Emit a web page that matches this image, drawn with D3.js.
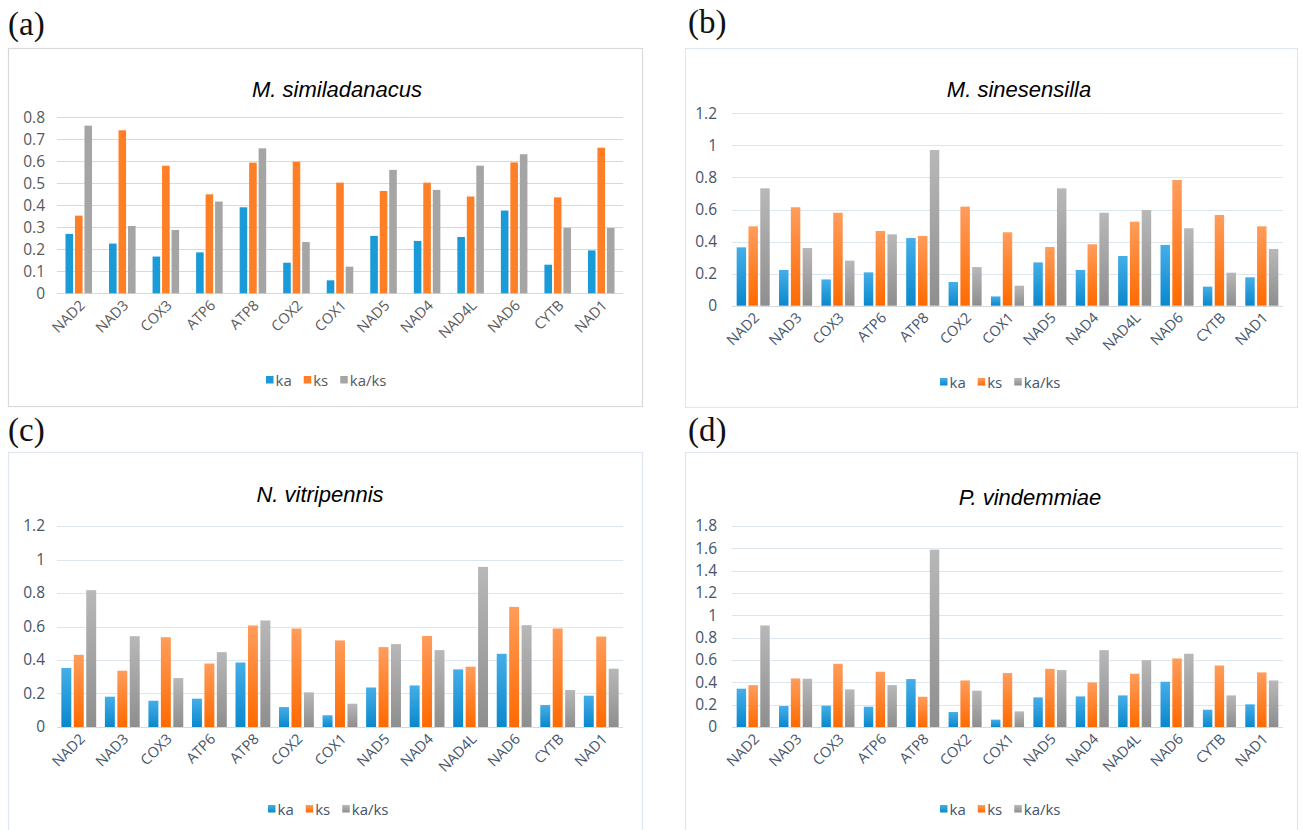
<!DOCTYPE html>
<html><head><meta charset="utf-8">
<script src="https://cdn.jsdelivr.net/npm/d3@7"></script>
<style>
html,body{margin:0;padding:0;background:#fff;}
svg{display:block;}
</style></head>
<body>
<svg id="chart" width="1302" height="830"></svg>
<script>
// ---- data ----
const genes = ["NAD2","NAD3","COX3","ATP6","ATP8","COX2","COX1","NAD5","NAD4","NAD4L","NAD6","CYTB","NAD1"];
const seriesNames = ["ka","ks","ka/ks"];

const aKa   = [0.270,0.226,0.167,0.186,0.391,0.139,0.059,0.261,0.238,0.256,0.376,0.130,0.195];
const aKs   = [0.353,0.741,0.580,0.450,0.594,0.598,0.503,0.465,0.503,0.440,0.595,0.436,0.662];
const aKaKs = [0.762,0.306,0.288,0.417,0.659,0.233,0.121,0.561,0.470,0.580,0.632,0.298,0.297];

const bKa   = [0.364,0.223,0.164,0.208,0.422,0.148,0.058,0.270,0.223,0.310,0.379,0.119,0.177];
const bKs   = [0.495,0.614,0.580,0.466,0.435,0.618,0.458,0.366,0.383,0.524,0.784,0.566,0.495];
const bKaKs = [0.732,0.360,0.281,0.445,0.971,0.241,0.125,0.732,0.580,0.597,0.483,0.206,0.354];

const cKa   = [0.352,0.181,0.157,0.169,0.385,0.119,0.070,0.236,0.248,0.344,0.437,0.131,0.187];
const cKs   = [0.431,0.336,0.536,0.379,0.606,0.588,0.517,0.477,0.544,0.360,0.717,0.588,0.540];
const cKaKs = [0.817,0.542,0.292,0.447,0.636,0.207,0.139,0.495,0.459,0.956,0.608,0.221,0.348];

const dKa   = [0.343,0.188,0.191,0.182,0.429,0.134,0.066,0.265,0.274,0.283,0.405,0.155,0.203];
const dKs   = [0.375,0.435,0.566,0.495,0.271,0.417,0.483,0.521,0.399,0.477,0.614,0.551,0.489];
const dKaKs = [0.909,0.432,0.337,0.375,1.588,0.325,0.140,0.510,0.688,0.599,0.656,0.283,0.417];

const aTicks = [0,0.1,0.2,0.3,0.4,0.5,0.6,0.7,0.8];
const bTicks = [0,0.2,0.4,0.6,0.8,1,1.2];
const cTicks = [0,0.2,0.4,0.6,0.8,1,1.2];
const dTicks = [0,0.2,0.4,0.6,0.8,1,1.2,1.4,1.6,1.8];

const titles = ["M. similadanacus","M. sinesensilla","N. vitripennis","P. vindemmiae"];
const panelLabels = ["(a)","(b)","(c)","(d)"];

// ---- layout ----
const panels = [
  {label:panelLabels[0], title:titles[0], series:[aKa,aKs,aKaKs], ticks:aTicks,
   frame:[8,48,642,406], lab:[8,35], tt:[337,97], px:[57,623], py:[293.3,117.3],
   leg:[266,380], pad:0.39, grad:false, txt:"#595959", grid:"#d9d9d9", border:"#d9d9d9", ylx:45},
  {label:panelLabels[1], title:titles[1], series:[bKa,bKs,bKaKs], ticks:bTicks,
   frame:[685,48,1297,407], lab:[688,33], tt:[1019,97], px:[732,1283], py:[305.7,113.3],
   leg:[940,382], pad:0.22, grad:true, txt:"#44546a", grid:"#dde5f0", border:"#dfe6f0", ylx:717},
  {label:panelLabels[2], title:titles[2], series:[cKa,cKs,cKaKs], ticks:cTicks,
   frame:[8,452,642,834], lab:[8,441], tt:[320,502], px:[57,623], py:[727,526],
   leg:[268,809], pad:0.2, grad:true, txt:"#44546a", grid:"#dde5f0", border:"#dfe6f0", ylx:45},
  {label:panelLabels[3], title:titles[3], series:[dKa,dKs,dKaKs], ticks:dTicks,
   frame:[685,452,1297,834], lab:[688,441], tt:[1030,505], px:[732,1283], py:[727,526],
   leg:[940,809], pad:0.22, grad:true, txt:"#44546a", grid:"#dde5f0", border:"#dfe6f0", ylx:717}
];

const flatColors = ["#1b9ad8","#ff7f27","#a5a5a5"];
const gradStops = [["#45aee8","#0a88cc"],["#ff9d5c","#ff6a00"],["#b8b8b8","#8e8e8e"]];

const svg = d3.select("#chart");
const defs = svg.append("defs");
gradStops.forEach((s,i)=>{
  const g = defs.append("linearGradient").attr("id","g"+i).attr("x1",0).attr("y1",0).attr("x2",0).attr("y2",1);
  g.append("stop").attr("offset","0%").attr("stop-color",s[0]);
  g.append("stop").attr("offset","100%").attr("stop-color",s[1]);
});

const tickFmt = v => (Math.round(v*10)/10).toString();
const FONT = "'Open Sans','Noto Sans',sans-serif";

panels.forEach(p=>{
  const g = svg.append("g");
  // frame
  g.append("rect").attr("x",p.frame[0]+0.5).attr("y",p.frame[1]+0.5)
    .attr("width",p.frame[2]-p.frame[0]).attr("height",p.frame[3]-p.frame[1])
    .attr("fill","#fff").attr("stroke",p.border).attr("stroke-width",1.2);
  // panel label
  g.append("text").attr("x",p.lab[0]).attr("y",p.lab[1]).text(p.label)
    .attr("font-family","'Liberation Serif','DejaVu Serif',serif").attr("font-size",33).attr("fill","#111");
  // title
  g.append("text").attr("x",p.tt[0]).attr("y",p.tt[1]).attr("text-anchor","middle").text(p.title)
    .attr("font-family","'Liberation Sans',Arial,sans-serif").attr("font-style","italic")
    .attr("font-size",22).attr("fill","#000");

  const maxT = p.ticks[p.ticks.length-1];
  const y = d3.scaleLinear().domain([0,maxT]).range([p.py[0],p.py[1]]);
  const x0 = d3.scaleBand().domain(genes).range(p.px).paddingInner(p.pad).paddingOuter(p.pad/2);
  const x1 = d3.scaleBand().domain(seriesNames).range([0,x0.bandwidth()]).paddingInner(0.2);

  // gridlines
  g.append("g").selectAll("line").data(p.ticks).join("line")
    .attr("x1",p.px[0]).attr("x2",p.px[1])
    .attr("y1",d=>Math.round(y(d))+0.5).attr("y2",d=>Math.round(y(d))+0.5)
    .attr("stroke",d=>d===0? "#d9d9d9": p.grid).attr("stroke-width",1.2);

  // y axis labels
  const yAxis = d3.axisLeft(y).tickValues(p.ticks).tickFormat(tickFmt).tickSize(0).tickPadding(0);
  const ya = g.append("g").attr("transform",`translate(${p.ylx},0)`).call(yAxis);
  ya.select(".domain").remove();
  ya.selectAll("text").attr("font-family",FONT).attr("font-size",15.5).attr("fill",p.txt);

  // bars
  const rows = genes.map((gname,i)=>({gene:gname, vals:seriesNames.map((s,j)=>({s, j, v:p.series[j][i]}))}));
  const grp = g.append("g").selectAll("g").data(rows).join("g")
    .attr("transform",d=>`translate(${x0(d.gene)},0)`);
  grp.selectAll("rect").data(d=>d.vals).join("rect")
    .attr("x",d=>x1(d.s)).attr("width",x1.bandwidth())
    .attr("y",d=>y(d.v)).attr("height",d=>y(0)-y(d.v))
    .attr("fill",d=>p.grad? `url(#g${d.j})` : flatColors[d.j]);

  // x axis labels
  const xAxis = d3.axisBottom(x0).tickSize(0).tickPadding(0);
  const xa = g.append("g").attr("transform",`translate(0,${p.py[0]})`).call(xAxis);
  xa.select(".domain").remove();
  xa.selectAll("text")
    .attr("font-family",FONT).attr("font-size",14.5).attr("fill",p.txt)
    .attr("text-anchor","end").attr("dy",null).attr("y",0)
    .attr("transform","translate(7,13) rotate(-45)");

  // legend
  const lg = g.append("g").attr("transform",`translate(${p.leg[0]},${p.leg[1]})`);
  let cx = 0;
  seriesNames.forEach((s,j)=>{
    lg.append("rect").attr("x",cx).attr("y",-4).attr("width",7.5).attr("height",7.5)
      .attr("fill", p.grad? `url(#g${j})` : flatColors[j]);
    const t = lg.append("text").attr("x",cx+9.5).attr("y",5.5).text(s)
      .attr("font-family",FONT).attr("font-size",15).attr("fill",p.txt);
    cx += 9.5 + t.node().getComputedTextLength() + 12;
  });
});
</script>
</body></html>
